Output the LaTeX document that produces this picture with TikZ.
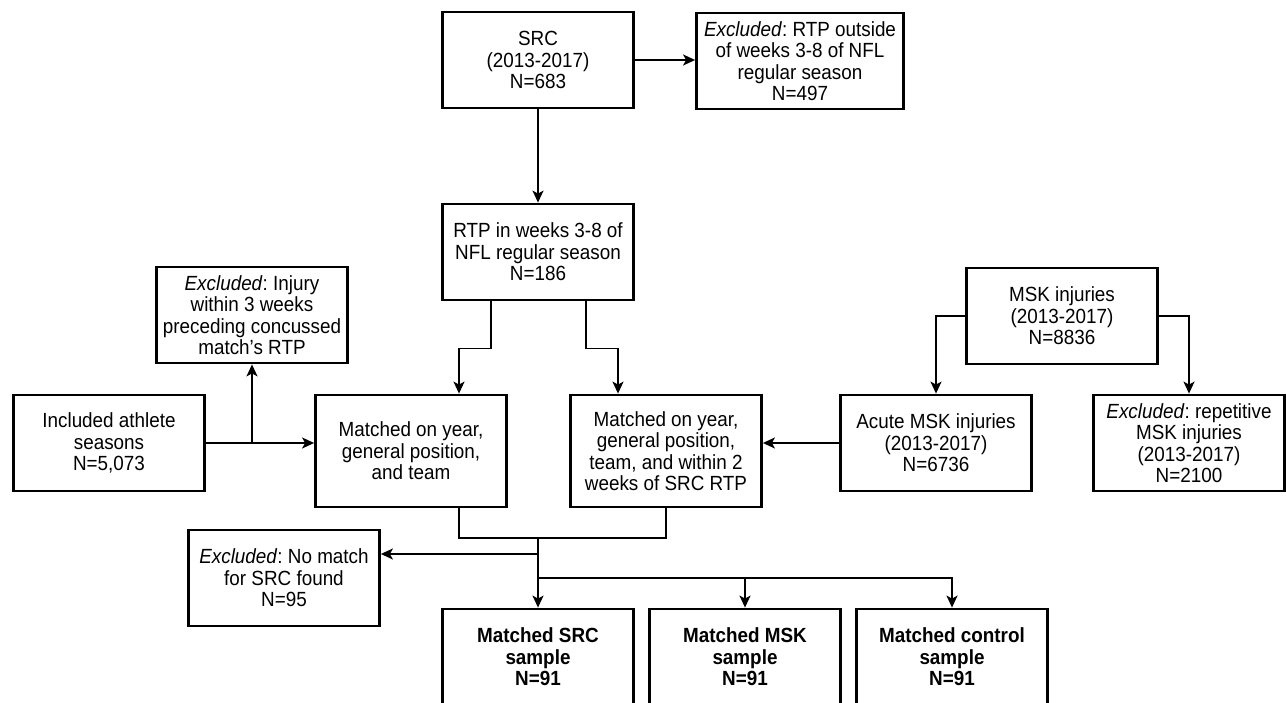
\documentclass[tikz,border=0pt]{standalone}
\usepackage{fontspec}
\setmainfont{Liberation Sans}[FakeStretch=0.92]
\usetikzlibrary{arrows.meta}
\frenchspacing
\begin{document}
\begin{tikzpicture}[x=1pt,y=-1pt,
    box/.style={draw,line width=2.8pt,align=center,inner sep=2pt,
        minimum width=191pt,minimum height=96pt,
        font=\fontsize{20.5}{21.5}\selectfont},
    arr/.style={line width=1.7pt,-{Stealth[length=12pt,width=11pt,inset=3pt]}},
    ln/.style={line width=1.7pt}]
    \useasboundingbox (0,0) rectangle (1286,703);
    %top part: SRC and first exclusion
    \node[box] (src) at (538,60) {SRC\\(2013-2017)\\N=683};
    \node[box,minimum width=207pt] (exrtp) at (800,61) {\textit{Excluded}: RTP outside\\of weeks 3-8 of NFL\\regular season\\N=497};
    \node[box] (rtp) at (538,252) {RTP in weeks 3-8 of\\NFL regular season\\N=186};
    \draw[arr] (src.east) -- (src.east -| exrtp.west);
    \draw[arr] (src.south) -- (rtp.north);
    %left side
    \node[box] (exinj) at (252,315) {\textit{Excluded}: Injury\\within 3 weeks\\preceding concussed\\match's RTP};
    \node[box] (incl) at (109,443) {Included athlete\\seasons\\N=5,073};
    %middle: matching boxes
    \node[box,minimum height=112pt] (match1) at (411,451) {Matched on year,\\general position,\\and team};
    \node[box,minimum height=112pt] (match2) at (666,451) {Matched on year,\\general position,\\team, and within 2\\weeks of SRC RTP};
    \draw[arr] (incl.east) -- (incl.east -| match1.west);
    \draw[arr] (incl.east -| exinj.south) -- (exinj.south);
    \draw[arr] ([xshift=-47pt]rtp.south) -- ++(0,47) -| ([xshift=48pt]match1.north);
    \draw[arr] ([xshift=48pt]rtp.south) -- ++(0,47) -| ([xshift=-48pt]match2.north);
    %right side: MSK injuries
    \node[box] (msk) at (1062,316) {MSK injuries\\(2013-2017)\\N=8836};
    \node[box] (acute) at (936,443) {Acute MSK injuries\\(2013-2017)\\N=6736};
    \node[box] (exrep) at (1189,443) {\textit{Excluded}: repetitive\\MSK injuries\\(2013-2017)\\N=2100};
    \draw[arr] (msk.west) -| (acute.north);
    \draw[arr] (msk.east) -| (exrep.north);
    \draw[arr] (acute.west) -- (acute.west -| match2.east);
    %bottom: merging and final samples
    \node[box] (exnm) at (284,578) {\textit{Excluded}: No match\\for SRC found\\N=95};
    \node[box,font=\fontsize{20.5}{21.5}\selectfont\bfseries] (msrc) at (538,657) {Matched SRC\\sample\\N=91};
    \node[box,font=\fontsize{20.5}{21.5}\selectfont\bfseries] (mmsk) at (745,657) {Matched MSK\\sample\\N=91};
    \node[box,font=\fontsize{20.5}{21.5}\selectfont\bfseries] (mctl) at (952,657) {Matched control\\sample\\N=91};
    \coordinate (join) at (538,538);
    \coordinate (split) at (538,554);
    \coordinate (fan) at (538,578);
    \draw[ln] ([xshift=48pt]match1.south) |- (join) -| (match2.south);
    \draw[arr] (join) -- (split) -- (split -| exnm.east);
    \draw[arr] (split) -- (msrc.north);
    \draw[arr] (fan) -| (mctl.north);
    \draw[arr] (fan -| mmsk.north) -- (mmsk.north);
\end{tikzpicture}
\end{document}
